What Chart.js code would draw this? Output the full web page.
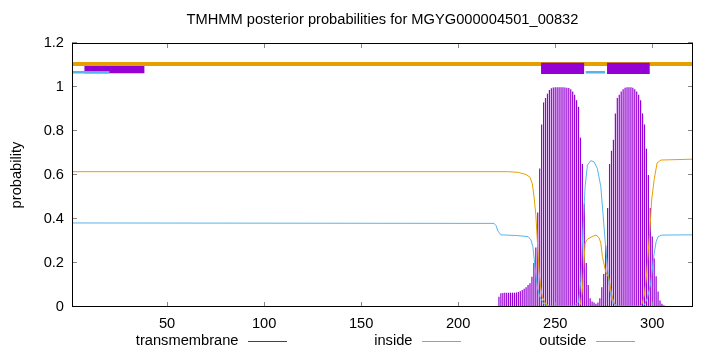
<!DOCTYPE html>
<html>
<head>
<meta charset="utf-8">
<script src="https://cdn.jsdelivr.net/npm/chart.js@4.4.0/dist/chart.umd.min.js"></script>
<style>
  html, body { margin: 0; padding: 0; background: #fff; }
</style>
</head>
<body>
<canvas id="grafico" width="720" height="352"></canvas>
<script>
const titulo = 'TMHMM posterior probabilities for MGYG000004501_00832';
const etiquetaY = 'probability';
const nombresSeries = ['transmembrane', 'inside', 'outside'];
const ticksX = [50, 100, 150, 200, 250, 300];
const ticksY = [0, 0.2, 0.4, 0.6, 0.8, 1, 1.2];
const largoSecuencia = 321;

// probabilidad transmembrana, un valor por residuo desde tmInicio
const tmInicio = 221;
const tmProb = [
  0.047, 0.062, 0.064, 0.065, 0.065, 0.065, 0.065, 0.065, 0.065, 0.066,
  0.068, 0.072, 0.077, 0.083, 0.09, 0.1, 0.108, 0.138, 0.2, 0.27,
  0.43, 0.63, 0.83, 0.93, 0.95, 0.97, 0.986, 0.994, 0.998, 0.999,
  0.999, 0.999, 0.999, 0.999, 0.998, 0.997, 0.995, 0.99, 0.98, 0.965,
  0.94, 0.91, 0.77, 0.65, 0.47, 0.2, 0.1, 0.04, 0.025, 0.02,
  0.015, 0.02, 0.04, 0.09, 0.15, 0.28, 0.45, 0.65, 0.71, 0.76,
  0.88, 0.95, 0.965, 0.98, 0.99, 0.997, 0.999, 0.999, 0.999, 0.997,
  0.99, 0.98, 0.965, 0.94, 0.88, 0.83, 0.72, 0.6, 0.45, 0.32,
  0.22, 0.14, 0.07, 0.03, 0.015, 0.008
];
// valores casi nulos cerca del residuo 150
const tmDebilResiduos = [149, 150, 151, 152, 153, 154, 155, 156, 157, 158, 159, 160, 161, 162, 163, 164];
const tmDebilProb = [0.004, 0.004, 0.004, 0.004, 0.004, 0.004, 0.004, 0.004, 0.004, 0.004, 0.004, 0.004, 0.004, 0.004, 0.004, 0.004];

const insideResiduos = [1, 218.5, 219.5, 220.5, 222, 230, 236, 237.5, 238.5, 239.6, 240.8, 242, 244.3, 247,
  259, 262, 263.2, 264.3, 265.4, 266.6, 268.3, 270, 271.7, 273.5, 274.6, 275.7, 276.9, 278.1, 279.4, 281.2, 283,
  295, 296, 297.5, 299.2, 300, 301, 302, 303, 305, 321];
const insideProb = [0.382, 0.38, 0.37, 0.345, 0.328, 0.325, 0.32, 0.305, 0.274, 0.18, 0.09, 0.047, 0.012, 0.003,
  0.003, 0.02, 0.12, 0.35, 0.547, 0.645, 0.665, 0.66, 0.63, 0.547, 0.426, 0.305, 0.183, 0.077, 0.024, 0.006, 0.003,
  0.003, 0.01, 0.04, 0.108, 0.168, 0.244, 0.297, 0.32, 0.327, 0.328];

const outsideResiduos = [1, 226, 231, 235, 237, 238.2, 239.1, 240, 240.8, 241.7, 242.5, 243.3, 245, 247,
  262, 263, 264, 265.4, 266.6, 269, 271, 272.6, 273.5, 274.3, 276, 277.4, 278.1, 279.1, 280.3, 282,
  294, 295, 296, 297, 298, 299, 299.7, 301, 302.5, 304.5, 321];
const outsideProb = [0.615, 0.615, 0.612, 0.602, 0.59, 0.56, 0.5, 0.42, 0.3, 0.16, 0.09, 0.047, 0.015, 0.004,
  0.004, 0.012, 0.08, 0.29, 0.308, 0.32, 0.327, 0.315, 0.29, 0.23, 0.16, 0.138, 0.108, 0.055, 0.018, 0.004,
  0.004, 0.02, 0.06, 0.138, 0.26, 0.38, 0.486, 0.58, 0.655, 0.668, 0.672];

// topologia predicha (tramos de residuos) dibujada sobre las curvas
const tramosOutside = [[1, 321]];
const tramoTMInicial = [[7.4, 38.3]];
const tramosTM = [[242.7, 264.9], [276.7, 298.7]];
const tramosInside = [[1, 20.3], [265.7, 275.7]];

const colorTM = '#9400d3';
const colorInside = '#56b4e9';
const colorOutside = '#e69f00';
const fuente = "'Liberation Sans', Arial, sans-serif";
const tamFuente = 14.67;

function tramosAPuntos(tramos, nivel) {
  const puntos = [];
  tramos.forEach((t, i) => {
    if (i > 0) puntos.push({ x: (tramos[i - 1][1] + t[0]) / 2, y: null });
    puntos.push({ x: t[0], y: nivel }, { x: t[1], y: nivel });
  });
  return puntos;
}

const barrasTM = tmProb.map((p, i) => ({ x: tmInicio + i, y: p }))
  .concat(tmDebilResiduos.map((r, i) => ({ x: r, y: tmDebilProb[i] })));

function linea(etiqueta, datos, color, ancho, orden) {
  return {
    type: 'line', label: etiqueta, data: datos,
    borderColor: color, backgroundColor: color, borderWidth: ancho,
    pointRadius: 0, tension: 0, spanGaps: false, fill: false, order: orden
  };
}

const marco = {
  id: 'marco',
  afterDatasetsDraw(chart) {
    const { ctx, chartArea: a, scales } = chart;
    ctx.save();
    // ticks hacia dentro en los cuatro lados
    ctx.strokeStyle = '#888';
    ctx.lineWidth = 1;
    ctx.beginPath();
    ticksX.forEach(v => {
      const x = Math.round(scales.x.getPixelForValue(v)) + 0.5;
      ctx.moveTo(x, a.bottom); ctx.lineTo(x, a.bottom - 5);
      ctx.moveTo(x, a.top); ctx.lineTo(x, a.top + 5);
    });
    ticksY.forEach(v => {
      const y = Math.round(scales.y.getPixelForValue(v)) - 0.5;
      ctx.moveTo(a.left, y); ctx.lineTo(a.left + 5, y);
      ctx.moveTo(a.right, y); ctx.lineTo(a.right - 5, y);
    });
    ctx.stroke();
    ctx.strokeStyle = '#000';
    ctx.strokeRect(a.left + 0.5, a.top + 0.5, a.right - a.left - 1, a.bottom - a.top - 1);

    ctx.fillStyle = '#000';
    ctx.font = tamFuente + 'px ' + fuente;
    ctx.textAlign = 'center';
    ctx.textBaseline = 'middle';
    ctx.fillText(titulo, (a.left + a.right) / 2, 20);

    ctx.save();
    ctx.translate(17, (a.top + a.bottom) / 2);
    ctx.rotate(-Math.PI / 2);
    ctx.fillText(etiquetaY, 0, 0);
    ctx.restore();

    // leyenda al pie: texto y muestra de linea
    const colores = [colorTM, colorInside, colorOutside];
    ctx.textAlign = 'right';
    nombresSeries.forEach((n, i) => {
      const finTexto = 238.5 + i * 174;
      ctx.fillStyle = '#000';
      ctx.fillText(n, finTexto, 341);
      ctx.strokeStyle = colores[i];
      ctx.beginPath();
      ctx.moveTo(finTexto + 9.5, 341.5);
      ctx.lineTo(finTexto + 48.5, 341.5);
      ctx.stroke();
    });
    ctx.restore();
  }
};

const ctx = document.getElementById('grafico').getContext('2d');
new Chart(ctx, {
  type: 'bar',
  data: {
    datasets: [
      {
        type: 'bar', label: nombresSeries[0], data: barrasTM,
        backgroundColor: colorTM, borderWidth: 0, barThickness: 1.2,
        inflateAmount: 0, grouped: false, order: 10
      },
      linea(nombresSeries[1], insideResiduos.map((r, i) => ({ x: r, y: insideProb[i] })), colorInside, 1, 9),
      linea(nombresSeries[2], outsideResiduos.map((r, i) => ({ x: r, y: outsideProb[i] })), colorOutside, 1, 8),
      linea('tm inicial', tramosAPuntos(tramoTMInicial, 1.079), colorTM, 7.5, 7),
      linea('outside arriba', tramosAPuntos(tramosOutside, 1.1045), colorOutside, 4, 6),
      linea('tm arriba', tramosAPuntos(tramosTM, 1.085), colorTM, 11.3, 5),
      linea('inside arriba', tramosAPuntos(tramosInside, 1.067), colorInside, 2.7, 4)
    ]
  },
  options: {
    responsive: false,
    animation: false,
    layout: { padding: { left: 0, right: 27, top: 43, bottom: 0 } },
    plugins: {
      legend: { display: false },
      title: { display: false },
      tooltip: { enabled: false }
    },
    scales: {
      x: {
        type: 'linear', min: 1, max: largoSecuencia, offset: false,
        afterBuildTicks: s => { s.ticks = ticksX.map(v => ({ value: v })); },
        afterFit: s => { s.height = 45; },
        grid: { display: true, drawOnChartArea: false, drawTicks: false },
        border: { display: false },
        ticks: { color: '#000', font: { family: fuente, size: tamFuente }, padding: 8, maxRotation: 0, autoSkip: false }
      },
      y: {
        min: 0, max: 1.2,
        afterBuildTicks: s => { s.ticks = ticksY.map(v => ({ value: v })); },
        afterFit: s => { s.width = 72; },
        grid: { display: true, drawOnChartArea: false, drawTicks: false },
        border: { display: false },
        ticks: { color: '#000', font: { family: fuente, size: tamFuente }, padding: 8, callback: v => String(v) }
      }
    }
  },
  plugins: [marco]
});
</script>
</body>
</html>
